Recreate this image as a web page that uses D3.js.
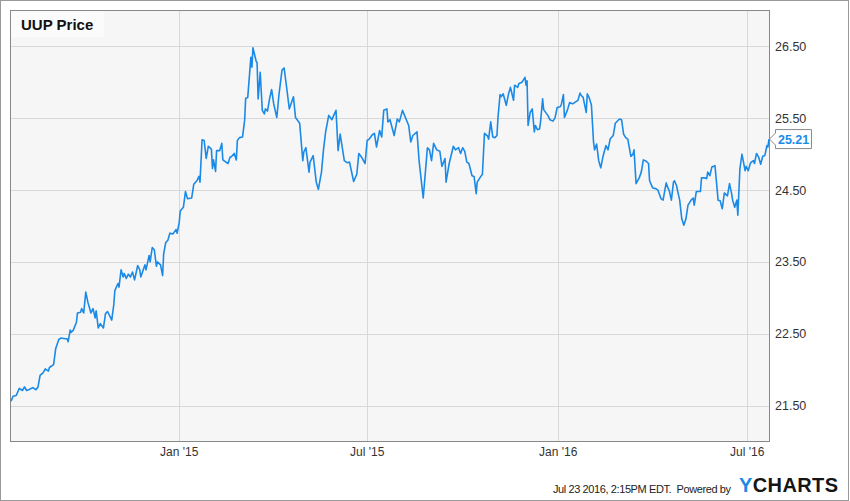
<!DOCTYPE html>
<html>
<head>
<meta charset="utf-8">
<title>UUP Price</title>
<script src="https://cdn.jsdelivr.net/npm/d3@7"></script>
<style>
    html, body { margin: 0; padding: 0; background: #fff; }
    #chart svg { display: block; font-family: "Liberation Sans", Arial, sans-serif; }
</style>
</head>
<body>
<div id="chart"></div>
<script>
const chartTitle = 'UUP Price';
const priceTicks = [21.5, 22.5, 23.5, 24.5, 25.5, 26.5];
const dateTicks = ['2015-01-01', '2015-07-01', '2016-01-01', '2016-07-01'];
const dateDomain = ['2014-07-22T12:00', '2016-07-22T12:00'];
const priceDomain = [21, 27];
const lastPrice = 25.21;
const footerText = 'Jul 23 2016, 2:15PM EDT.  Powered by';

// UUP closing prices
const uupPrices = [
    ['2014-07-23', 21.56], ['2014-07-25', 21.63], ['2014-07-28', 21.64], ['2014-07-31', 21.74], ['2014-08-03', 21.71],
    ['2014-08-05', 21.76], ['2014-08-07', 21.71], ['2014-08-09', 21.72], ['2014-08-13', 21.75], ['2014-08-16', 21.72],
    ['2014-08-18', 21.76], ['2014-08-20', 21.92], ['2014-08-23', 21.96], ['2014-08-25', 22.01], ['2014-08-28', 21.98],
    ['2014-08-29', 22.03], ['2014-09-02', 22.07], ['2014-09-04', 22.29], ['2014-09-07', 22.42], ['2014-09-09', 22.44],
    ['2014-09-13', 22.43], ['2014-09-15', 22.43], ['2014-09-16', 22.39], ['2014-09-18', 22.55], ['2014-09-19', 22.52],
    ['2014-09-21', 22.55], ['2014-09-24', 22.66], ['2014-09-25', 22.79], ['2014-09-28', 22.80], ['2014-09-29', 22.85],
    ['2014-10-01', 22.79], ['2014-10-03', 23.08], ['2014-10-05', 22.94], ['2014-10-08', 22.79], ['2014-10-10', 22.85],
    ['2014-10-12', 22.72], ['2014-10-13', 22.82], ['2014-10-15', 22.58], ['2014-10-17', 22.64], ['2014-10-20', 22.58],
    ['2014-10-22', 22.78], ['2014-10-24', 22.81], ['2014-10-28', 22.69], ['2014-10-30', 22.91], ['2014-10-31', 23.10],
    ['2014-11-03', 23.20], ['2014-11-04', 23.15], ['2014-11-06', 23.39], ['2014-11-08', 23.29], ['2014-11-09', 23.34],
    ['2014-11-11', 23.27], ['2014-11-13', 23.33], ['2014-11-15', 23.29], ['2014-11-17', 23.36], ['2014-11-19', 23.25],
    ['2014-11-22', 23.45], ['2014-11-24', 23.39], ['2014-11-25', 23.29], ['2014-11-29', 23.46], ['2014-11-30', 23.39],
    ['2014-12-03', 23.59], ['2014-12-04', 23.50], ['2014-12-06', 23.70], ['2014-12-08', 23.67], ['2014-12-10', 23.44],
    ['2014-12-11', 23.50], ['2014-12-14', 23.46], ['2014-12-16', 23.31], ['2014-12-17', 23.61], ['2014-12-19', 23.77],
    ['2014-12-21', 23.80], ['2014-12-23', 23.90], ['2014-12-26', 23.89], ['2014-12-29', 23.95], ['2014-12-30', 23.90],
    ['2015-01-01', 24.05], ['2015-01-02', 24.21], ['2015-01-05', 24.26], ['2015-01-07', 24.48], ['2015-01-09', 24.38],
    ['2015-01-13', 24.39], ['2015-01-15', 24.58], ['2015-01-18', 24.63], ['2015-01-20', 24.69], ['2015-01-21', 24.61],
    ['2015-01-23', 25.20], ['2015-01-25', 25.19], ['2015-01-27', 24.94], ['2015-01-29', 25.11], ['2015-02-01', 25.07],
    ['2015-02-02', 24.80], ['2015-02-03', 24.92], ['2015-02-05', 24.76], ['2015-02-06', 25.05], ['2015-02-09', 25.05],
    ['2015-02-11', 25.15], ['2015-02-12', 24.92], ['2015-02-14', 24.90], ['2015-02-17', 24.87], ['2015-02-19', 24.96],
    ['2015-02-20', 24.96], ['2015-02-23', 25.01], ['2015-02-25', 24.92], ['2015-02-26', 25.19], ['2015-02-28', 25.23],
    ['2015-03-03', 25.24], ['2015-03-05', 25.47], ['2015-03-06', 25.78], ['2015-03-08', 25.79], ['2015-03-11', 26.35],
    ['2015-03-12', 26.21], ['2015-03-13', 26.48], ['2015-03-16', 26.30], ['2015-03-17', 26.27], ['2015-03-18', 25.77],
    ['2015-03-20', 26.14], ['2015-03-22', 25.61], ['2015-03-24', 25.56], ['2015-03-25', 25.63], ['2015-03-27', 25.60],
    ['2015-03-29', 25.77], ['2015-03-31', 25.90], ['2015-04-02', 25.70], ['2015-04-05', 25.51], ['2015-04-07', 25.82],
    ['2015-04-10', 26.17], ['2015-04-12', 26.20], ['2015-04-14', 25.98], ['2015-04-17', 25.63], ['2015-04-21', 25.80],
    ['2015-04-23', 25.51], ['2015-04-27', 25.43], ['2015-04-30', 24.91], ['2015-05-01', 25.03], ['2015-05-03', 25.09],
    ['2015-05-06', 24.75], ['2015-05-07', 24.89], ['2015-05-10', 24.98], ['2015-05-13', 24.61], ['2015-05-15', 24.51],
    ['2015-05-18', 24.75], ['2015-05-20', 25.07], ['2015-05-22', 25.31], ['2015-05-25', 25.54], ['2015-05-28', 25.48],
    ['2015-06-01', 25.61], ['2015-06-03', 25.05], ['2015-06-05', 25.28], ['2015-06-09', 24.91], ['2015-06-12', 24.88],
    ['2015-06-14', 24.89], ['2015-06-18', 24.62], ['2015-06-21', 24.72], ['2015-06-23', 25.01], ['2015-06-26', 24.95],
    ['2015-06-29', 24.87], ['2015-07-01', 25.19], ['2015-07-03', 25.21], ['2015-07-06', 25.27], ['2015-07-08', 25.29],
    ['2015-07-10', 25.10], ['2015-07-13', 25.33], ['2015-07-15', 25.24], ['2015-07-17', 25.61], ['2015-07-20', 25.63],
    ['2015-07-21', 25.45], ['2015-07-23', 25.48], ['2015-07-27', 25.26], ['2015-07-30', 25.49], ['2015-08-01', 25.45],
    ['2015-08-04', 25.61], ['2015-08-10', 25.40], ['2015-08-12', 25.17], ['2015-08-14', 25.26], ['2015-08-18', 25.31],
    ['2015-08-20', 24.91], ['2015-08-24', 24.39], ['2015-08-27', 24.91], ['2015-08-28', 25.09], ['2015-08-30', 25.06],
    ['2015-09-01', 24.91], ['2015-09-03', 25.15], ['2015-09-06', 25.06], ['2015-09-09', 25.04], ['2015-09-11', 24.83],
    ['2015-09-14', 24.94], ['2015-09-15', 24.61], ['2015-09-18', 24.87], ['2015-09-22', 25.11], ['2015-09-24', 25.06],
    ['2015-09-27', 25.09], ['2015-09-29', 25.01], ['2015-10-01', 25.09], ['2015-10-03', 25.04], ['2015-10-05', 24.89],
    ['2015-10-07', 24.87], ['2015-10-10', 24.70], ['2015-10-12', 24.69], ['2015-10-14', 24.45], ['2015-10-15', 24.61],
    ['2015-10-18', 24.68], ['2015-10-20', 24.72], ['2015-10-22', 25.29], ['2015-10-25', 25.25], ['2015-10-26', 25.21],
    ['2015-10-28', 25.45], ['2015-10-30', 25.24], ['2015-11-01', 25.23], ['2015-11-03', 25.26], ['2015-11-04', 25.51],
    ['2015-11-06', 25.83], ['2015-11-07', 25.80], ['2015-11-09', 25.84], ['2015-11-12', 25.68], ['2015-11-14', 25.83],
    ['2015-11-16', 25.93], ['2015-11-19', 25.75], ['2015-11-20', 25.96], ['2015-11-23', 25.93], ['2015-11-24', 25.98],
    ['2015-11-27', 26.00], ['2015-11-30', 26.07], ['2015-12-01', 25.96], ['2015-12-02', 26.02], ['2015-12-03', 25.40],
    ['2015-12-05', 25.58], ['2015-12-07', 25.63], ['2015-12-09', 25.31], ['2015-12-10', 25.40], ['2015-12-12', 25.34],
    ['2015-12-14', 25.35], ['2015-12-15', 25.45], ['2015-12-17', 25.77], ['2015-12-18', 25.62], ['2015-12-22', 25.54],
    ['2015-12-24', 25.48], ['2015-12-27', 25.46], ['2015-12-29', 25.51], ['2015-12-31', 25.65], ['2016-01-03', 25.66],
    ['2016-01-04', 25.69], ['2016-01-06', 25.83], ['2016-01-07', 25.51], ['2016-01-10', 25.62], ['2016-01-12', 25.72],
    ['2016-01-15', 25.70], ['2016-01-17', 25.72], ['2016-01-20', 25.75], ['2016-01-22', 25.85], ['2016-01-23', 25.82],
    ['2016-01-25', 25.79], ['2016-01-28', 25.58], ['2016-01-29', 25.84], ['2016-01-31', 25.78], ['2016-02-02', 25.68],
    ['2016-02-04', 25.17], ['2016-02-05', 25.06], ['2016-02-07', 25.14], ['2016-02-09', 24.91], ['2016-02-11', 24.81],
    ['2016-02-13', 24.96], ['2016-02-16', 25.12], ['2016-02-18', 25.06], ['2016-02-20', 25.21], ['2016-02-23', 25.26],
    ['2016-02-25', 25.43], ['2016-02-29', 25.49], ['2016-03-02', 25.48], ['2016-03-04', 25.28], ['2016-03-06', 25.23],
    ['2016-03-08', 25.21], ['2016-03-11', 24.97], ['2016-03-13', 25.00], ['2016-03-14', 25.06], ['2016-03-16', 24.59],
    ['2016-03-19', 24.67], ['2016-03-21', 24.75], ['2016-03-23', 24.92], ['2016-03-25', 24.91], ['2016-03-28', 24.87],
    ['2016-03-29', 24.63], ['2016-04-01', 24.53], ['2016-04-04', 24.52], ['2016-04-06', 24.50], ['2016-04-08', 24.42],
    ['2016-04-09', 24.38], ['2016-04-11', 24.36], ['2016-04-14', 24.60], ['2016-04-16', 24.52], ['2016-04-17', 24.49],
    ['2016-04-19', 24.36], ['2016-04-21', 24.61], ['2016-04-22', 24.63], ['2016-04-24', 24.56], ['2016-04-25', 24.49],
    ['2016-04-27', 24.36], ['2016-04-29', 24.10], ['2016-05-01', 24.01], ['2016-05-03', 24.10], ['2016-05-05', 24.29],
    ['2016-05-08', 24.36], ['2016-05-10', 24.39], ['2016-05-11', 24.29], ['2016-05-13', 24.48], ['2016-05-15', 24.48],
    ['2016-05-17', 24.48], ['2016-05-18', 24.67], ['2016-05-21', 24.67], ['2016-05-23', 24.66], ['2016-05-24', 24.75],
    ['2016-05-26', 24.70], ['2016-05-28', 24.82], ['2016-05-31', 24.84], ['2016-06-01', 24.68], ['2016-06-03', 24.36],
    ['2016-06-05', 24.35], ['2016-06-07', 24.24], ['2016-06-09', 24.46], ['2016-06-12', 24.42], ['2016-06-14', 24.59],
    ['2016-06-16', 24.45], ['2016-06-17', 24.36], ['2016-06-19', 24.26], ['2016-06-21', 24.36], ['2016-06-22', 24.15],
    ['2016-06-24', 24.80], ['2016-06-26', 25.00], ['2016-06-29', 24.77], ['2016-06-30', 24.83], ['2016-07-02', 24.77],
    ['2016-07-04', 24.87], ['2016-07-05', 24.89], ['2016-07-07', 24.91], ['2016-07-08', 24.87], ['2016-07-10', 25.01],
    ['2016-07-12', 24.96], ['2016-07-14', 24.86], ['2016-07-16', 24.97], ['2016-07-18', 24.98], ['2016-07-20', 25.12],
    ['2016-07-21', 25.10], ['2016-07-22', 25.21]
];

class PriceChart {
    constructor(containerId) {
        this.containerId = containerId;
        this.width = 850;
        this.height = 501;
        this.plot = { left: 10.5, top: 10.5, right: 769.5, bottom: 441.5 };
        this.lineColor = '#1b8ae6';
        this.svg = null;
        this.xScale = null;
        this.yScale = null;
        this.data = null;
    }

    init(rows) {
        const parseDate = d3.timeParse('%Y-%m-%d');
        this.data = rows.map(r => ({ date: parseDate(r[0]), price: r[1] }));
        this.setupSVG();
        this.drawFrame();
        this.drawGrid();
        this.drawLine();
        this.drawAxes();
        this.drawLastPrice();
        this.drawFooter();
    }

    setupSVG() {
        const container = d3.select(`#${this.containerId}`);
        container.selectAll('*').remove();

        this.svg = container.append('svg')
            .attr('width', this.width)
            .attr('height', this.height);

        const parseTime = d3.timeParse('%Y-%m-%dT%H:%M');
        this.xScale = d3.scaleTime()
            .domain(dateDomain.map(parseTime))
            .range([this.plot.left, this.plot.right]);

        this.yScale = d3.scaleLinear()
            .domain(priceDomain)
            .range([this.plot.bottom, this.plot.top]);
    }

    drawFrame() {
        const p = this.plot;
        this.svg.append('rect')
            .attr('x', 0.5).attr('y', 0.5)
            .attr('width', this.width - 2).attr('height', this.height - 1)
            .attr('fill', '#fff')
            .attr('stroke', '#999');

        this.svg.append('rect')
            .attr('class', 'plot-bg')
            .attr('x', p.left).attr('y', p.top)
            .attr('width', p.right - p.left).attr('height', p.bottom - p.top)
            .attr('fill', '#f6f6f6');
    }

    drawGrid() {
        const p = this.plot;
        const grid = this.svg.append('g').attr('class', 'grid');
        const parseDate = d3.timeParse('%Y-%m-%d');

        grid.selectAll('.h-line')
            .data(priceTicks)
            .enter()
            .append('line')
            .attr('class', 'h-line')
            .attr('x1', p.left).attr('x2', p.right)
            .attr('y1', d => Math.round(this.yScale(d)) + 0.5)
            .attr('y2', d => Math.round(this.yScale(d)) + 0.5)
            .attr('stroke', '#d8d8d8');

        grid.selectAll('.v-line')
            .data(dateTicks.map(parseDate))
            .enter()
            .append('line')
            .attr('class', 'v-line')
            .attr('y1', p.top).attr('y2', p.bottom)
            .attr('x1', d => Math.round(this.xScale(d)) + 0.5)
            .attr('x2', d => Math.round(this.xScale(d)) + 0.5)
            .attr('stroke', '#d8d8d8');

        // title box sits over the grid
        this.svg.append('rect')
            .attr('x', p.left + 0.5).attr('y', p.top + 0.5)
            .attr('width', 93).attr('height', 26)
            .attr('fill', '#fbfbfb');

        this.svg.append('text')
            .attr('class', 'chart-title')
            .attr('x', 21)
            .attr('y', 29.5)
            .style('font-size', '15px')
            .style('font-weight', 'bold')
            .attr('fill', '#111')
            .text(chartTitle);

        this.svg.append('rect')
            .attr('x', p.left).attr('y', p.top)
            .attr('width', p.right - p.left).attr('height', p.bottom - p.top)
            .attr('fill', 'none')
            .attr('stroke', '#888');
    }

    drawLine() {
        const line = d3.line()
            .x(d => this.xScale(d.date))
            .y(d => this.yScale(d.price));

        this.svg.append('path')
            .datum(this.data)
            .attr('class', 'line-path')
            .attr('fill', 'none')
            .attr('stroke', this.lineColor)
            .attr('stroke-width', 1.6)
            .attr('stroke-linejoin', 'round')
            .attr('d', line);
    }

    drawAxes() {
        const parseDate = d3.timeParse('%Y-%m-%d');
        const fmt = d3.timeFormat("%b '%y");

        this.svg.selectAll('.date-label')
            .data(dateTicks.map(parseDate))
            .enter()
            .append('text')
            .attr('class', 'date-label')
            .attr('x', d => this.xScale(d))
            .attr('y', 456)
            .attr('text-anchor', 'middle')
            .style('font-size', '12px')
            .attr('fill', '#333')
            .text(d => fmt(d));

        this.svg.selectAll('.price-label')
            .data(priceTicks)
            .enter()
            .append('text')
            .attr('class', 'price-label')
            .attr('x', this.plot.right + 5.5)
            .attr('y', d => this.yScale(d))
            .attr('dy', '0.36em')
            .style('font-size', '12.5px')
            .attr('fill', '#333')
            .text(d => d3.format('.2f')(d));
    }

    drawLastPrice() {
        const last = this.data[this.data.length - 1];
        const tx = this.xScale(last.date) + 0.5;
        const ty = this.yScale(lastPrice);

        const path = d3.path();
        path.moveTo(tx, ty);
        path.lineTo(tx + 6, ty - 6);
        path.lineTo(tx + 6, ty - 9.5);
        path.lineTo(tx + 42, ty - 9.5);
        path.lineTo(tx + 42, ty + 9.5);
        path.lineTo(tx + 6, ty + 9.5);
        path.lineTo(tx + 6, ty + 6);
        path.closePath();

        this.svg.append('path')
            .attr('d', path.toString())
            .attr('fill', '#fff')
            .attr('stroke', '#888');

        this.svg.append('text')
            .attr('x', tx + 8.5)
            .attr('y', ty)
            .attr('dy', '0.36em')
            .style('font-size', '12.5px')
            .style('font-weight', 'bold')
            .attr('fill', this.lineColor)
            .text(d3.format('.2f')(lastPrice));
    }

    drawFooter() {
        this.svg.append('text')
            .attr('x', 553)
            .attr('y', 493)
            .attr('textLength', 178)
            .attr('lengthAdjust', 'spacing')
            .style('font-size', '11px')
            .style('white-space', 'pre')
            .attr('fill', '#222')
            .text(footerText);

        const logo = this.svg.append('text')
            .attr('x', 739)
            .attr('y', 491.5)
            .attr('textLength', 99)
            .attr('lengthAdjust', 'spacing')
            .style('font-size', '20px')
            .style('font-weight', 'bold');
        logo.append('tspan').attr('fill', '#1b8ae6').text('Y');
        logo.append('tspan').attr('fill', '#151515').text('CHARTS');
    }
}

const chart = new PriceChart('chart');
chart.init(uupPrices);
</script>
</body>
</html>
